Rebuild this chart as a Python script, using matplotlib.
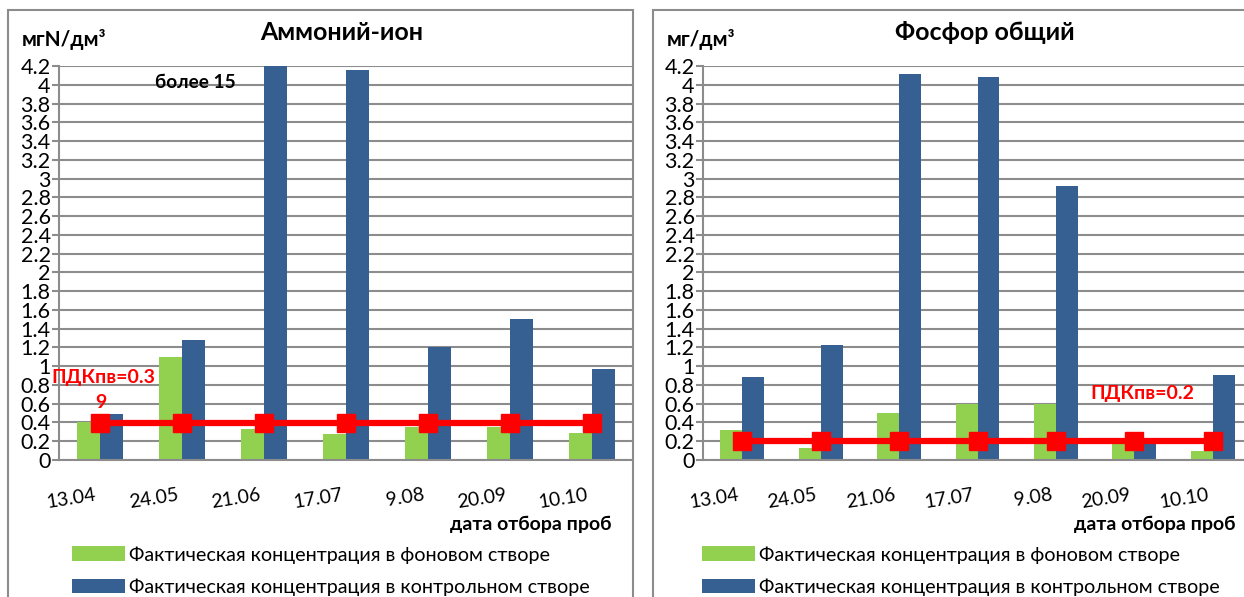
import matplotlib
matplotlib.use("Agg")
import matplotlib.pyplot as plt
from matplotlib.patches import Rectangle
from matplotlib.transforms import ScaledTranslation
import numpy as np

plt.rcParams['font.family'] = ['Lato', 'Open Sans', 'DejaVu Sans']

dates = ["13.04", "24.05", "21.06", "17.07", "9.08", "20.09", "10.10"]

# Аммоний-ион, мгN/дм³
ammonium_background = [0.40, 1.10, 0.33, 0.28, 0.35, 0.35, 0.29]
ammonium_control = [0.49, 1.28, 15.0, 4.16, 1.20, 1.50, 0.97]
ammonium_limit = 0.39

# Фосфор общий, мг/дм³
phosphorus_background = [0.32, 0.13, 0.50, 0.60, 0.60, 0.17, 0.10]
phosphorus_control = [0.88, 1.23, 4.11, 4.08, 2.92, 0.17, 0.91]
phosphorus_limit = 0.2

yticks = [round(0.2 * i, 1) for i in range(22)]

GREEN = "#92D050"
BLUE = "#366092"
RED = "#FF0000"
GRID = "#8C8C8C"

W, H = 1244, 597
fig = plt.figure(figsize=(W / 100, H / 100), dpi=100)


def fx(px):
    return px / W


def fy(py):
    return 1 - py / H


def panel(x0, x1, ax_left, ax_right, background, control, limit,
          unit, title, title_x, legend_x, xlabel_right):
    # outer frame of the panel
    fig.patches.append(Rectangle((fx(x0), fy(H + 5)), fx(x1 - x0), fy(10) - fy(H + 5),
                                 transform=fig.transFigure, fill=False,
                                 edgecolor=GRID, lw=1.5, zorder=0))
    ax = fig.add_axes([fx(ax_left), fy(460), fx(ax_right - ax_left), fy(66) - fy(460)])
    x = np.arange(len(dates))
    w = 0.28
    b1 = ax.bar(x - w / 2, background, w, color=GREEN, zorder=2,
                label="Фактическая концентрация в фоновом створе")
    b2 = ax.bar(x + w / 2, control, w, color=BLUE, zorder=2,
                label="Фактическая концентрация в контрольном створе")
    ax.plot(x, [limit] * len(dates), color=RED, lw=4.5, marker="s",
            markersize=13, zorder=3)
    ax.set_xlim(-0.5, len(dates) - 0.5)
    ax.set_ylim(0, 4.2)
    ax.set_yticks(yticks)
    ax.set_yticklabels([f"{v:g}" for v in yticks], fontsize=15.5)
    ax.yaxis.grid(True, color=GRID, lw=1.5, zorder=0)
    ax.set_axisbelow(True)
    ax.tick_params(axis="y", length=5, color=GRID, width=1.5, pad=1)
    ax.set_xticks(x)
    ax.set_xticklabels(dates, fontsize=14, rotation=9, ha="right",
                       rotation_mode="anchor")
    ax.tick_params(axis="x", length=0, pad=19)
    shift = ScaledTranslation(-5 / 100, 0, fig.dpi_scale_trans)
    for lbl in ax.get_xticklabels():
        lbl.set_transform(lbl.get_transform() + shift)
    for s in ("top", "right"):
        ax.spines[s].set_visible(False)
    for s in ("left", "bottom"):
        ax.spines[s].set_color(GRID)
        ax.spines[s].set_linewidth(1.5)
    ax.set_facecolor("none")

    fig.text(fx(x0 + 14), fy(40), unit, fontsize=15, fontweight="bold",
             ha="left", va="center")
    fig.text(fx(title_x), fy(32), title, fontsize=18, fontweight="bold",
             ha="center", va="center")
    fig.text(fx(xlabel_right), fy(524), "дата отбора проб", fontsize=14,
             fontweight="bold", ha="right", va="center")
    fig.legend(handles=[b1, b2], loc="upper left",
               bbox_to_anchor=(fx(legend_x), fy(546)), frameon=False,
               fontsize=14.2, handlelength=2.7, handleheight=0.75,
               handletextpad=0.2, labelspacing=0.75, borderpad=0,
               borderaxespad=0)
    return ax


axL = panel(8, 633, 59, 633, ammonium_background, ammonium_control,
            ammonium_limit, "мгN/дм³", "Аммоний-ион", 342, 72, 612)
axR = panel(653, W + 10, 703, 1252, phosphorus_background, phosphorus_control,
            phosphorus_limit, "мг/дм³", "Фосфор общий", 985, 702, 1236)

fig.text(fx(195), fy(82), "более 15", fontsize=13.7, fontweight="bold",
         ha="center", va="center")
fig.text(fx(103), fy(378), f"ПДКпв={ammonium_limit:g}"[:-1], fontsize=14,
         fontweight="bold", color=RED, ha="center", va="center")
fig.text(fx(101), fy(403), f"{ammonium_limit:g}"[-1], fontsize=14,
         fontweight="bold", color=RED, ha="center", va="center")
fig.text(fx(1142), fy(394), f"ПДКпв={phosphorus_limit:g}", fontsize=14,
         fontweight="bold", color=RED, ha="center", va="center")

fig.savefig("out.png", dpi=100)
